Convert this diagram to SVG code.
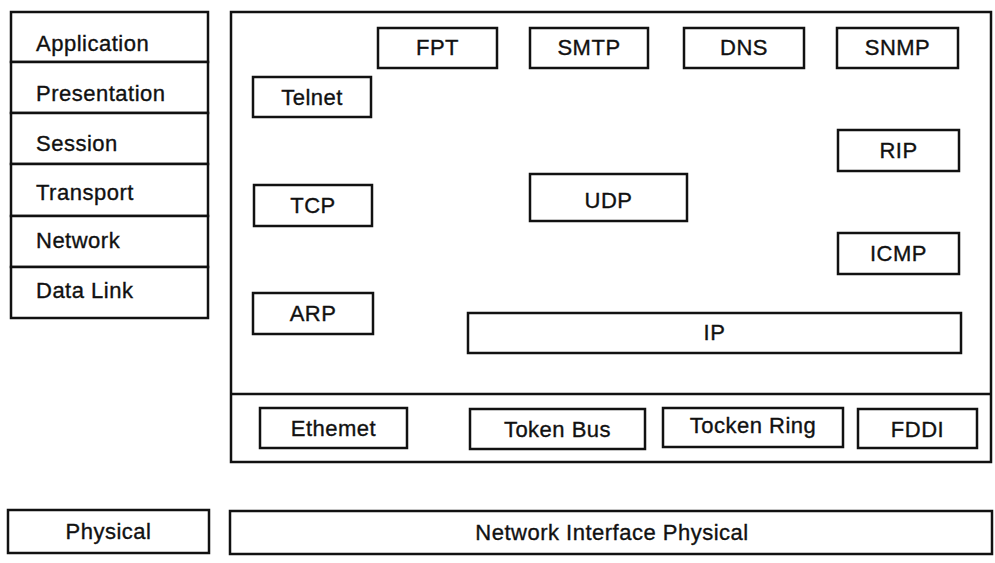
<svg xmlns="http://www.w3.org/2000/svg" width="995" height="563" viewBox="0 0 995 563">
<style>
rect{fill:#fff;stroke:#111;stroke-width:2.5}
text{font-family:"Liberation Sans",Arial,sans-serif;font-size:22px;fill:#111;stroke:#111;stroke-width:0.35;letter-spacing:0.5px}
.c{text-anchor:middle}
</style>
<rect x="0" y="0" width="995" height="563" style="stroke:none"/>
<g id="osi">
<g id="application"><rect x="11" y="12" width="197" height="50"/><text x="36" y="51">Application</text></g>
<g id="presentation"><rect x="11" y="62" width="197" height="51"/><text x="36" y="101">Presentation</text></g>
<g id="session"><rect x="11" y="113" width="197" height="51"/><text x="36" y="151">Session</text></g>
<g id="transport"><rect x="11" y="164" width="197" height="52"/><text x="36" y="200">Transport</text></g>
<g id="network"><rect x="11" y="216" width="197" height="51"/><text x="36" y="248">Network</text></g>
<g id="datalink"><rect x="11" y="267" width="197" height="51"/><text x="36" y="298">Data Link</text></g>
</g>
<g id="tcpip">
<rect x="231" y="12" width="760" height="450"/>
<line x1="231" y1="394" x2="991" y2="394" stroke="#111" stroke-width="2.5"/>
</g>
<g id="fpt"><rect x="378" y="28" width="119" height="40"/><text class="c" x="437.5" y="55">FPT</text></g>
<g id="smtp"><rect x="530" y="28" width="118" height="40"/><text class="c" x="589" y="55">SMTP</text></g>
<g id="dns"><rect x="684" y="28" width="120" height="40"/><text class="c" x="744" y="55">DNS</text></g>
<g id="snmp"><rect x="837" y="28" width="121" height="40"/><text class="c" x="897.5" y="55">SNMP</text></g>
<g id="telnet"><rect x="253" y="77" width="118" height="40"/><text class="c" x="312" y="105">Telnet</text></g>
<g id="rip"><rect x="838" y="130" width="121" height="41"/><text class="c" x="898.5" y="158">RIP</text></g>
<g id="tcp"><rect x="254" y="185" width="118" height="41"/><text class="c" x="313" y="213">TCP</text></g>
<g id="udp"><rect x="530" y="174" width="157" height="47"/><text class="c" x="608.5" y="208">UDP</text></g>
<g id="icmp"><rect x="838" y="233" width="121" height="41"/><text class="c" x="898.5" y="261">ICMP</text></g>
<g id="arp"><rect x="253" y="293" width="120" height="41"/><text class="c" x="313" y="321">ARP</text></g>
<g id="ip"><rect x="468" y="313" width="493" height="40"/><text class="c" x="714.5" y="340">IP</text></g>
<g id="ethernet"><rect x="260" y="408" width="147" height="40"/><text class="c" x="333.5" y="436">Ethemet</text></g>
<g id="tokenbus"><rect x="470" y="409" width="175" height="40"/><text class="c" x="557.5" y="437">Token Bus</text></g>
<g id="tockenring"><rect x="663" y="408" width="180" height="39"/><text class="c" x="753" y="433">Tocken Ring</text></g>
<g id="fddi"><rect x="858" y="409" width="119" height="39"/><text class="c" x="917.5" y="437">FDDI</text></g>
<g id="physical"><rect x="8" y="510" width="201" height="43"/><text class="c" x="108.5" y="539">Physical</text></g>
<g id="nip"><rect x="230" y="511" width="762" height="43"/><text class="c" x="612" y="540">Network Interface Physical</text></g>
<g id="connectors"></g>
</svg>
